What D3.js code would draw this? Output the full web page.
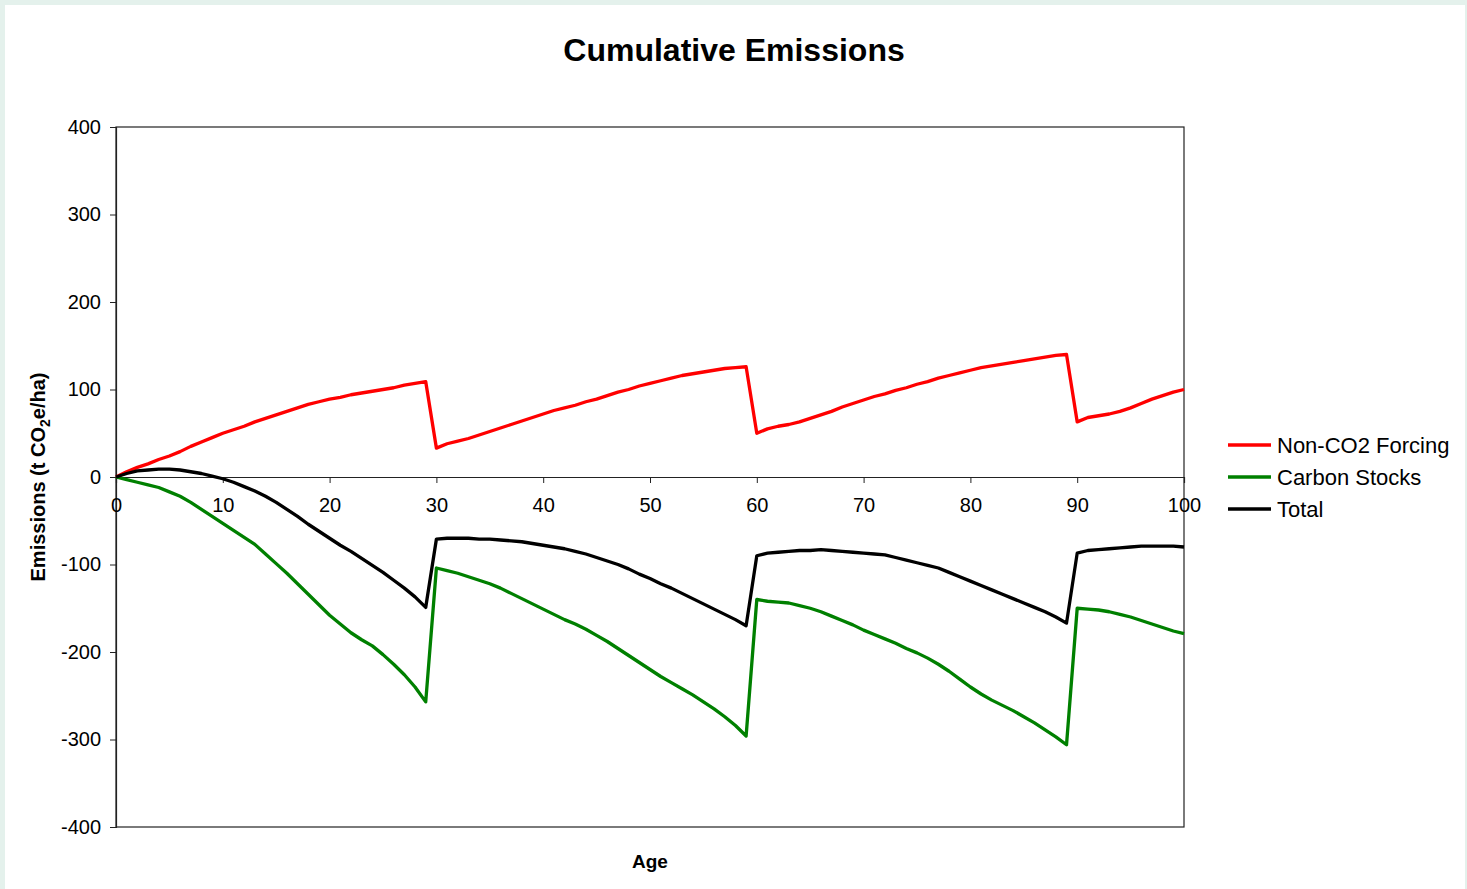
<!DOCTYPE html>
<html>
<head>
<meta charset="utf-8">
<script src="https://cdn.jsdelivr.net/npm/d3@7"></script>
<style>
  html, body { margin: 0; padding: 0; background: #e4f1ec; }
  svg { display: block; }
  text { font-family: "Liberation Sans", Arial, sans-serif; fill: #000; }
</style>
</head>
<body>
<svg id="chart" width="1467" height="889"></svg>
<script>
// Age in years, one value per year
const ages = d3.range(0, 101);

// Cumulative emissions, t CO2e/ha
const nonCO2Forcing = [
  0, 6, 11, 15, 20, 24, 29, 35, 40, 45,
  50, 54, 58, 63, 67, 71, 75, 79, 83, 86,
  89, 91, 94, 96, 98, 100, 102, 105, 107, 109,
  33, 38, 41, 44, 48, 52, 56, 60, 64, 68,
  72, 76, 79, 82, 86, 89, 93, 97, 100, 104,
  107, 110, 113, 116, 118, 120, 122, 124, 125, 126,
  50, 55, 58, 60, 63, 67, 71, 75, 80, 84,
  88, 92, 95, 99, 102, 106, 109, 113, 116, 119,
  122, 125, 127, 129, 131, 133, 135, 137, 139, 140,
  63, 68, 70, 72, 75, 79, 84, 89, 93, 97,
  100
];

const carbonStocks = [
  0, -3, -6, -9, -12, -17, -22, -29, -37, -45,
  -53, -61, -69, -77, -88, -99, -110, -122, -134, -146,
  -158, -168, -178, -186, -193, -203, -214, -226, -240, -257,
  -104, -107, -110, -114, -118, -122, -127, -133, -139, -145,
  -151, -157, -163, -168, -174, -181, -188, -196, -204, -212,
  -220, -228, -235, -242, -249, -257, -265, -274, -284, -296,
  -140, -142, -143, -144, -147, -150, -154, -159, -164, -169,
  -175, -180, -185, -190, -196, -201, -207, -214, -222, -231,
  -240, -248, -255, -261, -267, -274, -281, -289, -297, -306,
  -150, -151, -152, -154, -157, -160, -164, -168, -172, -176,
  -179
];

const total = [
  0, 4, 7, 8, 9, 9, 8, 6, 4, 1,
  -2, -6, -11, -16, -22, -29, -37, -45, -54, -62,
  -70, -78, -85, -93, -101, -109, -118, -127, -137, -149,
  -71, -70, -70, -70, -71, -71, -72, -73, -74, -76,
  -78, -80, -82, -85, -88, -92, -96, -100, -105, -111,
  -116, -122, -127, -133, -139, -145, -151, -157, -163, -170,
  -90, -87, -86, -85, -84, -84, -83, -84, -85, -86,
  -87, -88, -89, -92, -95, -98, -101, -104, -109, -114,
  -119, -124, -129, -134, -139, -144, -149, -154, -160, -167,
  -87, -84, -83, -82, -81, -80, -79, -79, -79, -79,
  -80
];

const seriesNames = ["Non-CO2 Forcing", "Carbon Stocks", "Total"];
const seriesColors = ["#ff0000", "#008000", "#000000"];
const seriesValues = [nonCO2Forcing, carbonStocks, total];

const xTicks = [0, 10, 20, 30, 40, 50, 60, 70, 80, 90, 100];
const yTicks = [-400, -300, -200, -100, 0, 100, 200, 300, 400];

// Plain hyphen-minus for negative tick labels
const fmt = d => String(d);

const svg = d3.select("#chart");

// White page panel
svg.append("rect")
  .attr("x", 5).attr("y", 5)
  .attr("width", 1460).attr("height", 884)
  .attr("fill", "#ffffff");

const plot = { left: 116, right: 1184, top: 127, bottom: 827 };

const x = d3.scaleLinear().domain([0, 100]).range([plot.left, plot.right]);
const y = d3.scaleLinear().domain([-400, 400]).range([plot.bottom, plot.top]);

// Title
svg.append("text")
  .attr("x", 734).attr("y", 61)
  .attr("text-anchor", "middle")
  .style("font-size", "32px").style("font-weight", "bold")
  .text("Cumulative Emissions");

// Plot frame
svg.append("rect")
  .attr("x", plot.left).attr("y", plot.top)
  .attr("width", plot.right - plot.left).attr("height", plot.bottom - plot.top)
  .attr("fill", "none").attr("stroke", "#222").attr("stroke-width", 1.2);

// Y axis
const yAxis = svg.append("g")
  .attr("transform", `translate(${plot.left},0)`)
  .call(d3.axisLeft(y).tickValues(yTicks).tickSize(6).tickPadding(9).tickFormat(fmt));
yAxis.select(".domain").attr("stroke", "#222").attr("stroke-width", 1.2);
yAxis.selectAll(".tick line").attr("stroke", "#222");
yAxis.selectAll(".tick text")
  .style("font-size", "20px")
  .style("font-family", "'Liberation Sans', Arial, sans-serif")
  .attr("fill", "#000");

// X axis, drawn along zero
const xAxis = svg.append("g")
  .attr("transform", `translate(0,${y(0)})`)
  .call(d3.axisBottom(x).tickValues(xTicks).tickSize(6).tickPadding(15).tickFormat(fmt));
xAxis.select(".domain").attr("stroke", "#222").attr("stroke-width", 1.2);
xAxis.selectAll(".tick line").attr("stroke", "#222");
xAxis.selectAll(".tick text")
  .style("font-size", "20px")
  .style("font-family", "'Liberation Sans', Arial, sans-serif")
  .attr("fill", "#000");

// Axis titles
svg.append("text")
  .attr("x", (plot.left + plot.right) / 2).attr("y", 868)
  .attr("text-anchor", "middle")
  .style("font-size", "19px").style("font-weight", "bold")
  .text("Age");

const yTitle = svg.append("text")
  .attr("transform", `translate(45,477) rotate(-90)`)
  .attr("text-anchor", "middle")
  .style("font-size", "20px").style("font-weight", "bold");
yTitle.append("tspan").text("Emissions (t CO");
yTitle.append("tspan").attr("dy", 5).style("font-size", "14px").text("2");
yTitle.append("tspan").attr("dy", -5).text("e/ha)");

// Series lines
const line = d3.line()
  .x((d, i) => x(ages[i]))
  .y(d => y(d));

seriesValues.forEach((vals, k) => {
  svg.append("path")
    .datum(vals)
    .attr("d", line)
    .attr("fill", "none")
    .attr("stroke", seriesColors[k])
    .attr("stroke-width", 3.3)
    .attr("stroke-linejoin", "round");
});

// Legend
const legend = svg.append("g").attr("transform", "translate(1228,445)");
seriesNames.forEach((name, k) => {
  const g = legend.append("g").attr("transform", `translate(0,${k * 32})`);
  g.append("line")
    .attr("x1", 0).attr("x2", 43).attr("y1", 0).attr("y2", 0)
    .attr("stroke", seriesColors[k]).attr("stroke-width", 3.5);
  g.append("text")
    .attr("x", 49).attr("y", 8)
    .style("font-size", "22px")
    .text(name);
});
</script>
</body>
</html>
